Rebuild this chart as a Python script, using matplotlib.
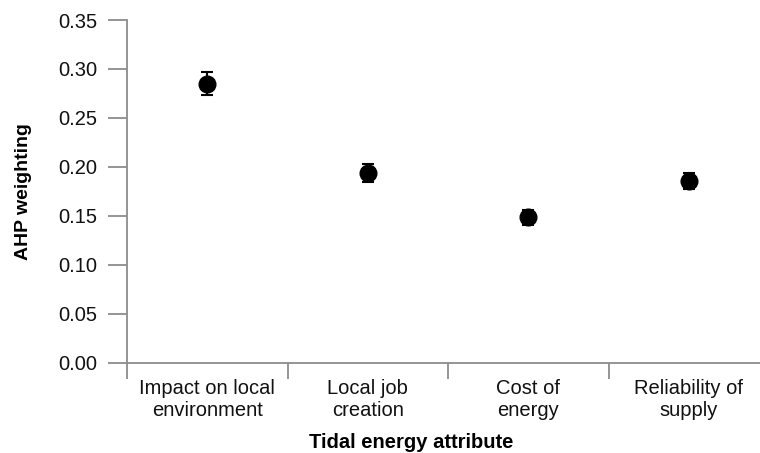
import matplotlib
matplotlib.use("Agg")
import matplotlib.pyplot as plt

categories = ["Impact on local\nenvironment", "Local job\ncreation", "Cost of\nenergy", "Reliability of\nsupply"]
weights = [0.285, 0.1935, 0.1485, 0.1855]
errors = [0.012, 0.009, 0.0075, 0.008]
yticks = [0.00, 0.05, 0.10, 0.15, 0.20, 0.25, 0.30, 0.35]

plt.rcParams['font.family'] = ['Liberation Sans', 'DejaVu Sans']

W, H = 760, 453
fig = plt.figure(figsize=(W / 100, H / 100), dpi=100)
x0, x1 = 127, 769
y0, y1 = 362.7, 20
ax = fig.add_axes([x0 / W, (H - y0) / H, (x1 - x0) / W, (y0 - y1) / H])

n = len(categories)
xpos = [i + 0.5 for i in range(n)]
ax.errorbar(xpos, weights, yerr=errors, fmt='o', color='black', ms=12,
            elinewidth=1.5, capsize=4.3, capthick=1.5, zorder=3)

ax.set_xlim(0, n)
ax.set_ylim(0, 0.35)

axis_color = '#8c8c8c'
for s in ['top', 'right']:
    ax.spines[s].set_visible(False)
for s in ['left', 'bottom']:
    ax.spines[s].set_color(axis_color)
    ax.spines[s].set_linewidth(1.3)

fs = 14.5
ax.set_yticks(yticks)
ax.set_yticklabels([f"{v:.2f}" for v in yticks])
ax.tick_params(axis='y', length=13.5, width=1.3, color=axis_color, pad=8,
               labelsize=fs, labelcolor='#111111')

ax.set_xticks(range(n + 1))
ax.set_xticklabels([''] * (n + 1))
ax.tick_params(axis='x', which='major', length=11.5, width=1.3, color=axis_color)
ax.set_xticks(xpos, minor=True)
ax.set_xticklabels(categories, minor=True, linespacing=1.2)
ax.tick_params(axis='x', which='minor', length=0, pad=11.5, labelsize=fs,
               labelcolor='#111111')

ax.set_ylabel("AHP weighting", fontsize=14, fontweight='bold')
ax.yaxis.set_label_coords((24 - x0) / (x1 - x0), 0.5)
ax.yaxis.label.set_va('center')
ax.set_xlabel("Tidal energy attribute", fontsize=fs, fontweight='bold')
ax.xaxis.set_label_coords((411 - x0) / (x1 - x0), -(442 - y0) / (y0 - y1))
ax.xaxis.label.set_va('center')

fig.savefig("out.png", dpi=100)
